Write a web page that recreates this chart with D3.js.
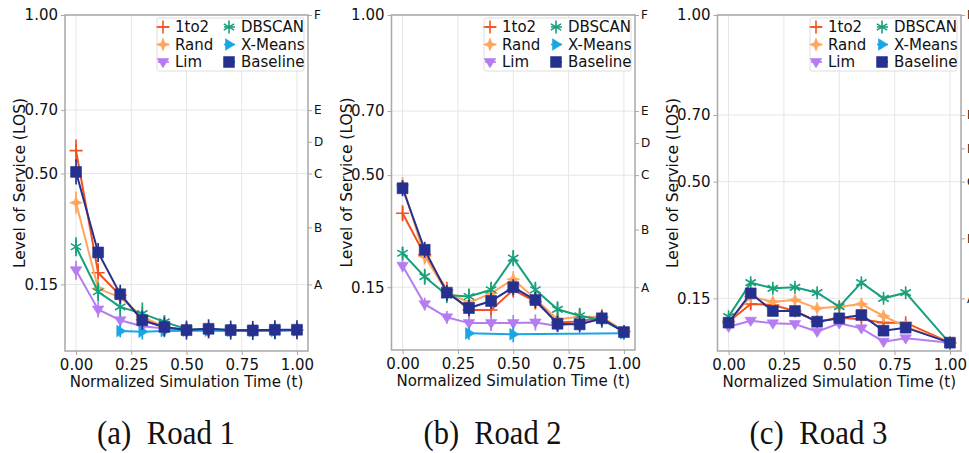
<!DOCTYPE html>
<html>
<head>
<meta charset="utf-8">
<script src="https://cdn.jsdelivr.net/npm/d3@7"></script>
<style>
  html, body { margin: 0; padding: 0; background: #fff; }
  svg { display: block; }
  text { font-family: "DejaVu Sans", sans-serif; fill: #111; }
</style>
</head>
<body>
<svg id="chart" width="969" height="453"></svg>
<script>
// Normalized simulation time sampled at each step
const timeSteps = [0, 0.1, 0.2, 0.3, 0.4, 0.5, 0.6, 0.7, 0.8, 0.9, 1.0];
const seriesNames = ["1to2", "Rand", "Lim", "DBSCAN", "X-Means", "Baseline"];
const yTickValues = [0.15, 0.50, 0.70, 1.00];
const xTickValues = [0, 0.25, 0.5, 0.75, 1.0];
const losLetters = ["A", "B", "C", "D", "E", "F"];
const losLevels = [0.15, 0.33, 0.50, 0.60, 0.70, 1.00];
const captions = ["(a)  Road 1", "(b)  Road 2", "(c)  Road 3"];

// Mean LOS per series (order follows seriesNames)
const road1Mean = [
  [0.572, 0.187, 0.116, 0.039, 0.014, 0.006, 0.009, 0.005, 0.005, 0.006, 0.006],
  [0.408, 0.137, 0.109, 0.048, 0.016, 0.006, 0.008, 0.005, 0.005, 0.006, 0.006],
  [0.195, 0.071, 0.037, 0.018, 0.011, 0.006, 0.007, 0.005, 0.005, 0.006, 0.006],
  [0.269, 0.127, 0.079, 0.058, 0.032, 0.009, 0.008, 0.006, 0.006, 0.006, 0.006],
  [null, null, 0.003, 0.001, 0.003, 0.004, 0.004, 0.003, 0.003, 0.003, 0.005],
  [0.505, 0.251, 0.119, 0.037, 0.016, 0.006, 0.010, 0.006, 0.005, 0.007, 0.007]
];
const road1Err = [
  [0.035, 0.030, 0.025, 0.020, 0.015, 0.020, 0.020, 0.020, 0.020, 0.020, 0.020],
  [0.035, 0.030, 0.025, 0.020, 0.015, 0.020, 0.020, 0.020, 0.020, 0.020, 0.020],
  [0.030, 0.025, 0.020, 0.015, 0.015, 0.020, 0.020, 0.020, 0.020, 0.020, 0.020],
  [0.030, 0.030, 0.030, 0.035, 0.020, 0.020, 0.020, 0.020, 0.020, 0.020, 0.020],
  [null, null, 0.020, 0.025, 0.020, 0.020, 0.020, 0.020, 0.020, 0.025, 0.020],
  [0.040, 0.030, 0.030, 0.030, 0.030, 0.030, 0.030, 0.030, 0.030, 0.030, 0.030]
];

const road2Mean = [
  [0.381, 0.251, 0.142, 0.079, 0.079, 0.142, 0.105, 0.040, 0.043, 0.056, 0.012],
  [0.469, 0.246, 0.136, 0.102, 0.131, 0.175, 0.113, 0.050, 0.058, 0.058, 0.012],
  [0.217, 0.097, 0.056, 0.038, 0.038, 0.038, 0.040, 0.029, 0.040, 0.048, 0.012],
  [0.256, 0.183, 0.126, 0.121, 0.142, 0.241, 0.142, 0.081, 0.061, 0.048, 0.012],
  [null, null, null, 0.006, null, 0.003, null, null, null, null, 0.006],
  [0.459, 0.267, 0.133, 0.085, 0.107, 0.150, 0.110, 0.036, 0.034, 0.053, 0.010]
];
const road2Err = [
  [0.025, 0.025, 0.025, 0.025, 0.025, 0.025, 0.025, 0.025, 0.025, 0.025, 0.020],
  [0.025, 0.025, 0.025, 0.025, 0.025, 0.025, 0.025, 0.025, 0.025, 0.025, 0.020],
  [0.020, 0.020, 0.020, 0.025, 0.025, 0.025, 0.025, 0.020, 0.020, 0.020, 0.020],
  [0.020, 0.025, 0.025, 0.025, 0.025, 0.025, 0.025, 0.025, 0.025, 0.025, 0.020],
  [null, null, null, 0.020, null, 0.025, null, null, null, null, 0.020],
  [0.025, 0.025, 0.025, 0.025, 0.025, 0.025, 0.025, 0.025, 0.025, 0.025, 0.020]
];

const road3Mean = [
  [0.080, 0.133, 0.130, 0.112, 0.080, 0.092, 0.087, 0.077, 0.077, null, 0.017],
  [0.080, 0.155, 0.140, 0.145, 0.120, 0.125, 0.133, 0.097, 0.065, null, 0.017],
  [0.065, 0.083, 0.075, 0.073, 0.050, 0.075, 0.060, 0.020, 0.030, null, 0.017],
  [0.095, 0.197, 0.180, 0.183, 0.167, 0.125, 0.197, 0.150, 0.167, null, 0.015],
  [null, null, null, null, null, null, null, null, null, null, 0.016],
  [0.077, 0.165, 0.112, 0.112, 0.080, 0.090, 0.100, 0.053, 0.062, null, 0.017]
];
const road3Err = [
  [0.010, 0.015, 0.010, 0.010, 0.010, 0.010, 0.010, 0.010, 0.010, null, 0.008],
  [0.010, 0.010, 0.010, 0.010, 0.010, 0.010, 0.010, 0.010, 0.010, null, 0.008],
  [0.010, 0.010, 0.010, 0.010, 0.010, 0.010, 0.010, 0.010, 0.010, null, 0.008],
  [0.010, 0.010, 0.010, 0.010, 0.010, 0.010, 0.010, 0.010, 0.010, null, 0.008],
  [null, null, null, null, null, null, null, null, null, null, 0.008],
  [0.012, 0.012, 0.010, 0.010, 0.010, 0.010, 0.010, 0.010, 0.010, null, 0.008]
];

const seriesColors = ["#f4511e", "#ffa65c", "#b57cf2", "#16a07c", "#1aa6e4", "#26318f"];

// Panel frames: plot box in pixels and lower y limit of each panel
const panels = [
  { mean: road1Mean, err: road1Err, left: 65,    right: 308, top: 15, bottom: 351, yMin: -0.060 },
  { mean: road2Mean, err: road2Err, left: 391.5, right: 635, top: 15, bottom: 350, yMin: -0.046 },
  { mean: road3Mean, err: road3Err, left: 717.5, right: 961, top: 15, bottom: 351, yMin: -0.008 }
];

const svg = d3.select("#chart");
const grid = "#e6e6e6";
const spine = "#a8a8a8";

// Marker shapes
function markerPath(kind, s) {
  switch (kind) {
    case "1to2": return `M${-s},0H${s}M0,${-s}V${s}`;
    case "Rand": {
      const w = s * 0.28;
      return `M0,${-s}L${w},${-w}L${s},0L${w},${w}L0,${s}L${-w},${w}L${-s},0L${-w},${-w}Z`;
    }
    case "Lim": return `M${-s},${-s * 0.6}L${s},${-s * 0.6}L0,${s}Z`;
    case "DBSCAN": {
      const d = s * 0.8;
      return `M0,${-s}V${s}M${-d},${-d * 0.6}L${d},${d * 0.6}M${-d},${d * 0.6}L${d},${-d * 0.6}`;
    }
    case "X-Means": return `M${-s * 0.6},${-s}L${s},0L${-s * 0.6},${s}Z`;
    case "Baseline": return `M${-s * 0.8},${-s * 0.8}H${s * 0.8}V${s * 0.8}H${-s * 0.8}Z`;
  }
}
const markerSize = { "1to2": 6.5, "Rand": 6.5, "Lim": 5.8, "DBSCAN": 6.5, "X-Means": 5.8, "Baseline": 6.8 };
const stroked = { "1to2": true, "DBSCAN": true };

function drawMarker(g, name, color, x, y) {
  const p = g.append("path")
    .attr("d", markerPath(name, markerSize[name]))
    .attr("transform", `translate(${x},${y})`);
  if (stroked[name]) p.attr("fill", "none").attr("stroke", color).attr("stroke-width", 1.6);
  else p.attr("fill", color).attr("stroke", color).attr("stroke-width", 0.6);
}

panels.forEach((pn, pi) => {
  const x = d3.scaleLinear().domain([-0.05, 1.05]).range([pn.left, pn.right]);
  const y = d3.scaleLinear().domain([pn.yMin, 1.0]).range([pn.bottom, pn.top]);
  const g = svg.append("g");

  // clip region for the plot area
  const clipId = "clip" + pi;
  svg.append("clipPath").attr("id", clipId).append("rect")
    .attr("x", pn.left).attr("y", pn.top)
    .attr("width", pn.right - pn.left).attr("height", pn.bottom - pn.top);

  // gridlines
  g.append("g").selectAll("line").data(xTickValues).join("line")
    .attr("x1", d => x(d)).attr("x2", d => x(d))
    .attr("y1", pn.top).attr("y2", pn.bottom)
    .attr("stroke", grid).attr("stroke-width", 1);
  g.append("g").selectAll("line").data(yTickValues).join("line")
    .attr("x1", pn.left).attr("x2", pn.right)
    .attr("y1", d => y(d)).attr("y2", d => y(d))
    .attr("stroke", grid).attr("stroke-width", 1);

  // series
  const plot = g.append("g").attr("clip-path", `url(#${clipId})`);
  seriesNames.forEach((name, si) => {
    const color = seriesColors[si];
    const pts = timeSteps.map((t, i) => ({ t, v: pn.mean[si][i], e: pn.err[si][i] }))
      .filter(d => d.v !== null);
    const sg = plot.append("g");
    sg.append("path").datum(pts)
      .attr("d", d3.line().x(d => x(d.t)).y(d => y(d.v)))
      .attr("fill", "none").attr("stroke", color).attr("stroke-width", 2);
    sg.selectAll("line.err").data(pts).join("line").attr("class", "err")
      .attr("x1", d => x(d.t)).attr("x2", d => x(d.t))
      .attr("y1", d => y(d.v - d.e)).attr("y2", d => y(d.v + d.e))
      .attr("stroke", color).attr("stroke-width", 1.7);
    pts.forEach(d => drawMarker(sg, name, color, x(d.t), y(d.v)));
  });

  // left axis
  const yAxis = g.append("g").attr("transform", `translate(${pn.left},0)`)
    .call(d3.axisLeft(y).tickValues(yTickValues).tickFormat(d3.format(".2f")).tickSize(4).tickPadding(3));
  // bottom axis
  const xAxis = g.append("g").attr("transform", `translate(0,${pn.bottom})`)
    .call(d3.axisBottom(x).tickValues(xTickValues).tickFormat(d3.format(".2f")).tickSize(4).tickPadding(4));
  // right axis with LOS letters
  const rAxis = g.append("g").attr("transform", `translate(${pn.right},0)`)
    .call(d3.axisRight(y).tickValues(losLevels).tickFormat((d, i) => losLetters[i]).tickSize(4).tickPadding(2));

  [yAxis, xAxis, rAxis].forEach(a => {
    a.select(".domain").remove();
    a.selectAll(".tick line").attr("stroke", spine);
    a.selectAll("text").attr("fill", "#111");
  });
  yAxis.selectAll("text").style("font-size", "15px");
  xAxis.selectAll("text").style("font-size", "15px");
  rAxis.selectAll("text").style("font-size", "12px");

  // frame
  g.append("rect")
    .attr("x", pn.left).attr("y", pn.top)
    .attr("width", pn.right - pn.left).attr("height", pn.bottom - pn.top)
    .attr("fill", "none").attr("stroke", spine).attr("stroke-width", 1.5);

  // axis titles
  g.append("text")
    .attr("transform", `translate(${pn.left - 45},${(pn.top + pn.bottom) / 2}) rotate(-90)`)
    .attr("text-anchor", "middle").attr("dy", "0.35em")
    .style("font-size", "15.5px")
    .text("Level of Service (LOS)");
  g.append("text")
    .attr("x", (pn.left + pn.right) / 2).attr("y", pn.bottom + 31)
    .attr("text-anchor", "middle").attr("dy", "0.35em")
    .style("font-size", "15px")
    .text("Normalized Simulation Time (t)");

  // legend
  const lgW = 147, lgH = 53;
  const lgX = pn.right - 4 - lgW, lgY = pn.top + 3;
  const lg = g.append("g");
  lg.append("rect").attr("x", lgX).attr("y", lgY).attr("width", lgW).attr("height", lgH)
    .attr("fill", "#fff").attr("fill-opacity", 0.85).attr("stroke", "#dddddd").attr("stroke-width", 1).attr("rx", 2);
  seriesNames.forEach((name, si) => {
    const col = Math.floor(si / 3), row = si % 3;
    const mx = lgX + 6 + col * 66, my = lgY + 9 + row * 17.5;
    lg.append("line").attr("x1", mx - 5).attr("x2", mx + 6).attr("y1", my).attr("y2", my)
      .attr("stroke", seriesColors[si]).attr("stroke-width", 1.6);
    drawMarker(lg, name, seriesColors[si], mx, my);
    lg.append("text").attr("x", mx + 12).attr("y", my).attr("dy", "0.35em")
      .style("font-size", "15px").text(name);
  });

  // caption under each panel (condensed serif)
  svg.append("text")
    .attr("x", pn.left + 32).attr("y", 444)
    .attr("xml:space", "preserve")
    .attr("textLength", 138)
    .attr("lengthAdjust", "spacingAndGlyphs")
    .style("font-family", "'Liberation Serif', 'Times New Roman', serif")
    .style("font-size", "34px")
    .text(captions[pi]);
});
</script>
</body>
</html>
